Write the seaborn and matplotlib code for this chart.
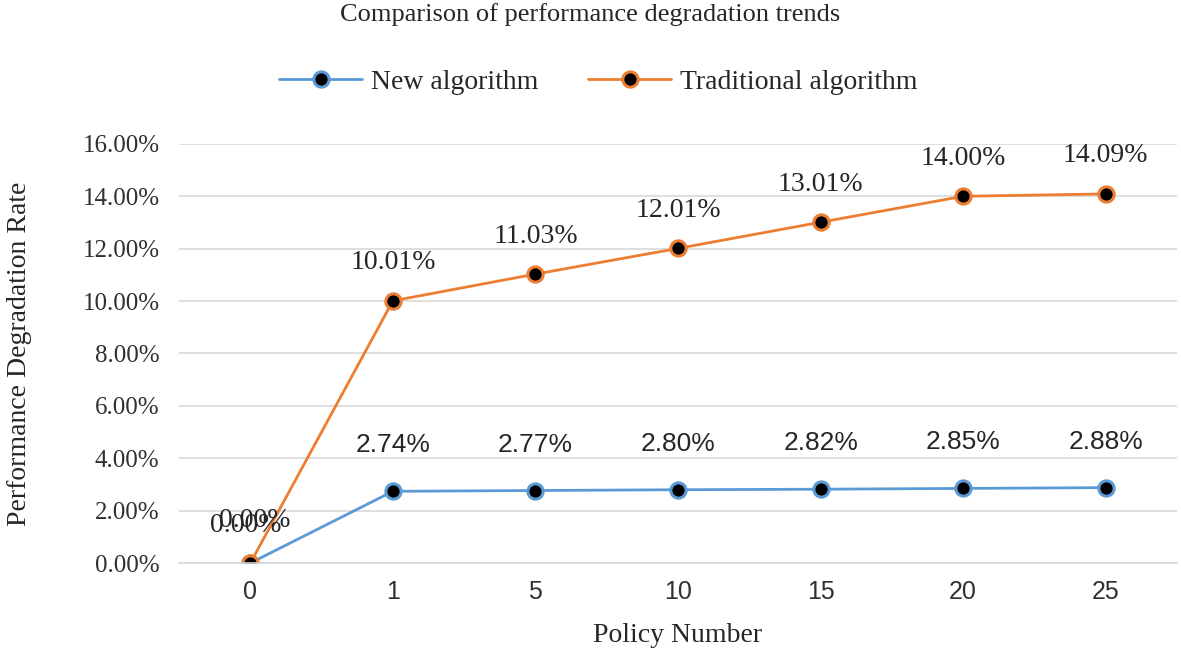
import pandas as pd
import matplotlib.pyplot as plt
import seaborn as sns
from matplotlib.ticker import FuncFormatter

policy = ["0", "1", "5", "10", "15", "20", "25"]
new_alg = [0.00, 2.74, 2.77, 2.80, 2.82, 2.85, 2.88]
trad_alg = [0.00, 10.01, 11.03, 12.01, 13.01, 14.00, 14.09]

df = pd.DataFrame({
    "policy": policy * 2,
    "rate": new_alg + trad_alg,
    "algo": ["New algorithm"] * len(policy) + ["Traditional algorithm"] * len(policy),
})

sns.set_style("white")
plt.rcParams['font.family'] = ['Liberation Serif', 'DejaVu Serif']

blue = "#5B9BD5"
orange = "#ED7D31"
sans = ['Liberation Sans Narrow', 'Liberation Sans', 'DejaVu Sans']

fig = plt.figure(figsize=(11.81, 6.54), dpi=100)
ax = fig.add_axes([0.1516, 0.139, 0.845, 0.641])

for name, col in [("New algorithm", blue), ("Traditional algorithm", orange)]:
    sub = df[df["algo"] == name]
    sns.lineplot(data=sub, x="policy", y="rate", ax=ax, color=col, lw=2,
                 marker="o", markersize=11, markerfacecolor="black",
                 markeredgecolor=col, markeredgewidth=2.2, label=name, sort=False)

# data labels (the two 0.00% labels overlap, as in the original)
for i, v in enumerate(trad_alg):
    ax.annotate(f"{v:.2f}%", (i, v), xytext=(-5 if i == 0 else 0, 38),
                textcoords="offset pixels", ha="center", va="center", fontsize=20)
for i, v in enumerate(new_alg):
    if i == 0:
        ax.annotate(f"{v:.2f}%", (i, v), xytext=(4, 43), textcoords="offset pixels",
                    ha="center", va="center", fontsize=20)
    else:
        ax.annotate(f"{v:.2f}%", (i, v), xytext=(0, 46), textcoords="offset pixels",
                    ha="center", va="center", fontsize=19, family=sans, color="#262626")

ax.set_ylim(0, 16)
ax.set_yticks(range(0, 17, 2))
ax.yaxis.set_major_formatter(FuncFormatter(lambda y, p: f"{y:.2f}%"))
ax.set_xlim(-0.5, len(policy) - 0.5)
ax.grid(axis="y", color="#d9d9d9", lw=1.2)
ax.set_axisbelow(True)
for s in ["top", "right", "left"]:
    ax.spines[s].set_visible(False)
ax.spines["bottom"].set_color("#d9d9d9")
ax.spines["bottom"].set_linewidth(1.2)
ax.tick_params(axis="y", length=0, labelsize=18, pad=14)
ax.tick_params(axis="x", length=0, labelsize=18, pad=12)
for lab in ax.get_xticklabels():
    lab.set_family(sans)
    lab.set_color("#303030")
for lab in ax.get_yticklabels():
    lab.set_color("#303030")

ax.set_xlabel("Policy Number", fontsize=20, labelpad=14)
ax.set_ylabel("Performance Degradation Rate", fontsize=20, labelpad=36)

fig.suptitle("Comparison of performance degradation trends", fontsize=19, y=0.995)
ax.legend(loc="center", bbox_to_anchor=(0.42, 1.148), ncol=2, frameon=False,
          fontsize=20, handlelength=3, handletextpad=0.3, columnspacing=1.8)

fig.savefig("out.png", dpi=100)
